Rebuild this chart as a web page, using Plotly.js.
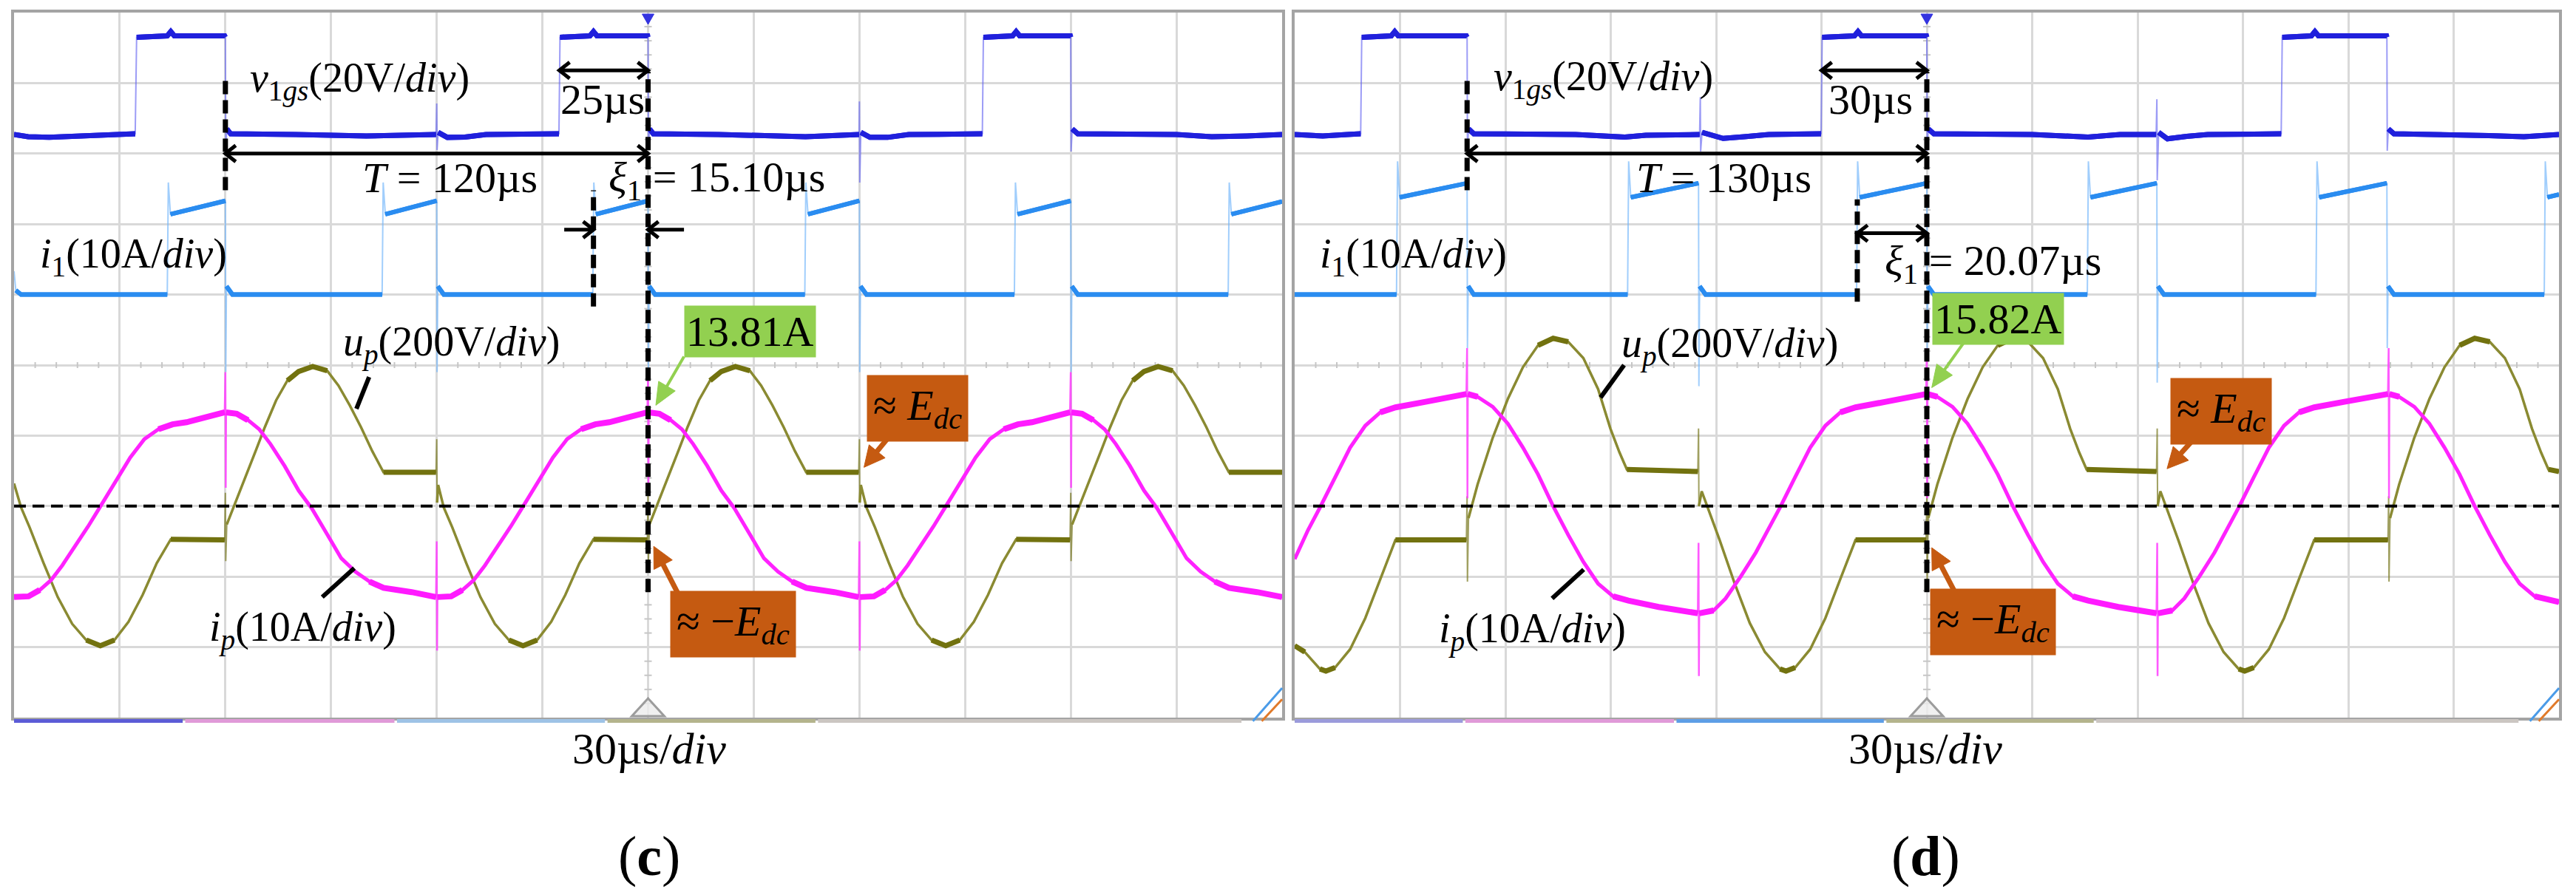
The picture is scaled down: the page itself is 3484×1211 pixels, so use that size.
<!DOCTYPE html>
<html>
<head>
<meta charset="utf-8">
<title>Scope captures (c) and (d)</title>
<script src="https://cdn.plot.ly/plotly-3.0.1.min.js"></script>
<style>
    html, body { margin: 0; padding: 0; background: #fff; }
    #scope { width: 3484px; height: 1211px; }
</style>
</head>
<body>
<div id="scope"></div>
<script>
/**
 * Two oscilloscope captures, (c) T = 120us and (d) T = 130us.
 * Times are in us from the trigger, values in channel units (V or A).
 */

// ---- panel (c) ----
const cGateT = [-180, -176, -170, -160, -146, -145.6, -145.2, -136.5, -135.5, -134.5, -120.2, -120, -119.9, -119.6, -118.5, -100, -80, -60.2, -60, -59.9, -59.6, -57, -52, -46, -25.3, -25, -16.5, -15.5, -14.5, -0.1, 0, 0.1, 0.4, 1.5, 20, 44.7, 59.9, 60, 60.1, 60.4, 63, 68, 74, 94.9, 95.2, 103.5, 104.5, 105.5, 119.9, 120, 120.1, 120.4, 122, 150, 160, 170, 180];
const cGateV = [0, -0.6, -0.8, -0.5, 0, 0.2, 27.6, 28, 29.2, 28, 28, 27.6, -4.4, 1.6, 0.2, 0, -0.4, 0, 8.8, -4.4, 0.6, -0.8, -0.7, 0, 0.2, 27.6, 28, 29.2, 28, 28, 27.6, -4.4, 1.6, 0.2, 0, -0.6, 0, 9.4, -13.6, 0.6, -0.8, -0.8, 0, 0.2, 27.6, 28, 29.2, 28, 28, 27.6, -4.8, 1.6, 0.2, 0, -0.6, -0.4, 0];

const cI1T = [-180, -179.5, -178, -136.5, -136.2, -135.6, -120.2, -120, -119.9, -119.7, -118, -75.5, -75.2, -74.6, -60.2, -60, -59.9, -59.7, -58, -15.7, -15.4, -14.8, -0.2, 0, 0.1, 0.3, 2, 44.5, 44.8, 45.4, 59.9, 60, 60.1, 60.3, 62, 104, 104.3, 104.9, 119.9, 120, 120.1, 120.3, 122, 164.7, 165, 165.6, 180];
const cI1V = [3.3, 0.6, 0, 0, 15.9, 11.4, 13.3, 13.3, -11, 1.2, 0, 0, 15.9, 11.4, 13.3, 13.3, -11, 1.2, 0, 0, 15.9, 11.4, 13.3, 13.3, -11, 1.2, 0, 0, 15.9, 11.4, 13.3, 13.3, -11, 1.2, 0, 0, 15.9, 11.4, 13.3, 13.3, -11, 1.2, 0, 0, 15.9, 11.4, 13.2];

const cUpT = [-180, -178, -175.6, -171.6, -167.6, -163.5, -159.5, -155.5, -151.5, -147.5, -143.5, -139.5, -135.5, -120.2, -120, -119.9, -119.6, -115.2, -111.2, -108.8, -105.6, -102.4, -99.2, -95.2, -91.1, -87.9, -84.7, -81.5, -78.3, -75.1, -60.2, -60, -59.9, -59.6, -58, -55.6, -51.6, -47.6, -43.5, -39.5, -35.5, -31.5, -27.5, -23.5, -19.5, -15.5, -0.2, 0, 0.1, 0.4, 4.8, 8.8, 11.2, 14.4, 17.6, 20.8, 24.8, 28.9, 32.1, 35.3, 38.5, 41.7, 44.9, 59.8, 60, 60.1, 60.4, 62, 64.4, 68.4, 72.4, 76.5, 80.5, 84.5, 88.5, 92.5, 96.5, 100.5, 104.5, 119.8, 120, 120.1, 120.4, 124.8, 128.8, 131.2, 134.4, 137.6, 140.8, 144.8, 148.9, 152.1, 155.3, 158.5, 161.7, 164.9, 180];
const cUpV = [64, -4, -60, -162, -258, -334, -380, -396, -380, -328, -252, -162, -94, -96, 38, -156, -52, 58, 162, 224, 300, 356, 382, 396, 384, 342, 286, 224, 156, 96, 96, 190, 10, 60, -4, -60, -162, -258, -334, -380, -396, -380, -328, -252, -162, -94, -96, 38, -156, -52, 58, 162, 224, 300, 356, 382, 396, 384, 342, 286, 224, 156, 96, 96, 190, 10, 60, -4, -60, -162, -258, -334, -380, -396, -380, -328, -252, -162, -94, -96, 38, -156, -52, 58, 162, 224, 300, 356, 382, 396, 384, 342, 286, 224, 156, 96, 96];

const cIpT = [-180, -175.9, -172.7, -169.5, -166.3, -163, -159, -155.8, -151, -147, -143, -139, -135, -131, -127, -120.2, -120, -119.9, -119.8, -116.8, -113.6, -110.4, -107.2, -103.2, -99.2, -95.5, -91.1, -87.1, -83.1, -79.1, -75.1, -67.1, -60.2, -60, -59.9, -59.8, -55.9, -52.7, -49.5, -46.3, -43, -39, -35.8, -31, -27, -23, -19, -15, -11, -7, -0.2, 0, 0.1, 0.2, 3.2, 6.4, 9.6, 12.8, 16.8, 20.8, 24.5, 28.9, 32.9, 36.9, 40.9, 44.9, 52.9, 59.8, 60, 60.1, 60.2, 64.1, 67.3, 70.5, 73.7, 77, 81, 84.2, 89, 93, 97, 101, 105, 109, 113, 119.8, 120, 120.1, 120.2, 123.2, 126.4, 129.6, 132.8, 136.8, 140.8, 144.5, 148.9, 152.9, 156.9, 160.9, 164.9, 172.9, 180];
const cIpV = [-12.9, -12.8, -11.9, -10.5, -8.4, -6.0, -2.9, -0.3, 3.6, 6.9, 9.5, 10.9, 11.6, 11.9, 12.4, 13.3, 19, 2.6, 13.3, 13.1, 12.2, 10.9, 8.8, 5.7, 2.2, -0.3, -4.0, -7.4, -9.3, -10.7, -11.6, -12.2, -12.9, -5.0, -20.5, -12.9, -12.8, -11.9, -10.5, -8.4, -6.0, -2.9, -0.3, 3.6, 6.9, 9.5, 10.9, 11.6, 11.9, 12.4, 13.3, 19, 2.0, 13.3, 13.1, 12.2, 10.9, 8.8, 5.7, 2.2, -0.3, -4.0, -7.4, -9.3, -10.7, -11.6, -12.2, -12.9, -5.0, -20.5, -12.9, -12.8, -11.9, -10.5, -8.4, -6.0, -2.9, -0.3, 3.6, 6.9, 9.5, 10.9, 11.6, 11.9, 12.4, 13.3, 19, 2.6, 13.3, 13.1, 12.2, 10.9, 8.8, 5.7, 2.2, -0.3, -4.0, -7.4, -9.3, -10.7, -11.6, -12.2, -12.9];

// ---- panel (d) ----
const dGateT = [-180, -172, -165, -161.2, -160.9, -152.5, -151.5, -150.5, -131.1, -130.9, -130.8, -130.5, -129, -100, -86, -80, -64.7, -64.5, -64.4, -64, -58, -52, -45, -30.1, -29.8, -20.6, -19.6, -18.6, -0.1, 0, 0.1, 0.4, 2, 30, 45.9, 55, 65.3, 65.5, 65.6, 66, 68.5, 74, 80, 100.9, 101.2, 109.5, 110.5, 111.5, 130.9, 131, 131.1, 131.4, 133, 160, 170, 180];
const dGateV = [0, -0.4, 0, 0.2, 27.6, 28, 29.2, 28, 28, 27.6, -4.6, 1.6, 0.2, 0, -0.7, -0.2, 0, 10.6, -4.8, 0.6, -1.1, -0.6, 0, 0.2, 27.6, 28, 29.2, 28, 28, 27.6, -4.6, 1.6, 0.2, 0, -0.7, 0, 0, 10, -13, 0.6, -1.2, -0.5, 0, 0.2, 27.6, 28, 29.2, 28, 28, 27.6, -4.6, 1.6, 0.2, -0.3, -0.6, 0];

const dI1T = [-180, -151, -150.7, -150.1, -131.1, -130.9, -130.8, -130.6, -129, -85.2, -84.9, -84.3, -65.2, -65, -64.9, -64.7, -63, -20, -19.7, -19.1, -0.2, 0, 0.1, 0.3, 2, 45.7, 46, 46.6, 65.3, 65.5, 65.6, 65.8, 67.5, 110.8, 111.1, 111.7, 130.8, 131, 131.1, 131.3, 133, 175.8, 176.1, 176.7, 180];
const dI1V = [0, 0, 18.9, 13.8, 15.8, 15.8, -7.6, 1.2, 0, 0, 18.9, 13.8, 15.8, 15.8, -13, 1.2, 0, 0, 18.9, 13.8, 15.8, 15.8, -7.6, 1.2, 0, 0, 18.9, 13.8, 15.8, 15.8, -12.5, 1.2, 0, 0, 18.9, 13.8, 15.8, 15.8, -7.6, 1.2, 0, 0, 18.9, 13.8, 14.2];

const dUpT = [-180, -177.1, -172.8, -171.1, -168.5, -164.2, -159.9, -155.6, -151.3, -131.1, -130.9, -130.8, -130.5, -127.9, -123.6, -119.3, -115, -110.7, -106.4, -102.1, -97.8, -93.6, -90.1, -87.5, -85.4, -65.2, -65, -64.9, -64.1, -62.4, -59, -54.7, -50.4, -46.1, -41.8, -40.1, -37.5, -33.2, -28.9, -24.6, -20.3, -0.2, 0, 0.1, 0.4, 3, 7.3, 11.6, 15.9, 20.2, 24.5, 28.8, 33.1, 37.3, 40.8, 43.4, 45.5, 65.4, 65.6, 65.7, 66.5, 68.2, 71.6, 75.9, 80.2, 84.5, 88.8, 90.5, 93.1, 97.4, 101.7, 106, 110.3, 131.3, 131.5, 131.6, 131.9, 134.5, 138.8, 143.1, 147.4, 151.7, 156, 160.3, 164.6, 168.8, 172.3, 174.9, 177, 180];
const dUpV = [-396, -414, -462, -468, -458, -406, -318, -206, -96, -96, 28, -214, -34, 62, 194, 304, 394, 456, 476, 466, 420, 332, 220, 152, 104, 98, 220, 0, 42, -4, -96, -220, -332, -414, -462, -468, -458, -406, -318, -206, -96, -96, 28, -214, -34, 62, 194, 304, 394, 456, 476, 466, 420, 332, 220, 152, 104, 98, 220, 0, 42, -4, -96, -220, -332, -414, -462, -468, -458, -406, -318, -206, -96, -96, 28, -214, -34, 62, 194, 304, 394, 456, 476, 466, 420, 332, 220, 152, 104, 98];

const dIpT = [-180, -176.2, -172.8, -168.5, -164.2, -159.9, -155.6, -151.3, -142.7, -131.1, -130.9, -130.8, -130.7, -127.9, -123.6, -119.3, -115, -110.7, -106.4, -102.1, -97.8, -93.6, -89.3, -85, -76.4, -65.2, -65, -64.9, -64.8, -60.7, -57.3, -53, -48.7, -45.2, -41.8, -37.5, -33.2, -28.9, -24.6, -20.3, -11.7, -0.2, 0, 0.1, 0.2, 3, 7.3, 11.6, 15.9, 20.2, 24.5, 28.8, 33.1, 37.3, 41.6, 45.9, 54.5, 65.4, 65.6, 65.7, 65.8, 69.9, 73.3, 77.6, 81.9, 85.4, 88.8, 93.1, 97.4, 101.7, 106, 110.3, 118.9, 131.3, 131.5, 131.6, 131.7, 134.5, 138.8, 143.1, 147.4, 151.7, 156, 160.3, 164.6, 168.8, 173.1, 177.4, 180];
const dIpV = [-7.5, -3.4, -0.2, 4.1, 8.3, 11.4, 13.3, 14.0, 14.8, 15.9, 22.4, 1.1, 15.9, 15.5, 14.1, 11.7, 8.3, 4.5, 0, -4.1, -7.9, -11.0, -12.8, -13.4, -14.3, -15.2, -5.2, -24.1, -15.2, -14.8, -13.1, -10.0, -6.6, -3.4, -0.2, 4.1, 8.3, 11.4, 13.3, 14.0, 14.8, 15.9, 22.4, 1.1, 15.9, 15.5, 14.1, 11.7, 8.3, 4.5, 0, -4.1, -7.9, -11.0, -12.8, -13.4, -14.3, -15.2, -5.2, -24.1, -15.2, -14.8, -13.1, -10.0, -6.6, -3.4, -0.2, 4.1, 8.3, 11.4, 13.3, 14.0, 14.8, 15.9, 22.4, 1.1, 15.9, 15.5, 14.1, 11.7, 8.3, 4.5, 0, -4.1, -7.9, -11.0, -12.8, -13.4, -13.6];

// Channel settings: units per division, ground position (div above the bottom) and look.
// Fast edges are drawn thin and pale, slow stretches thick, as on the scope screen.
const CHANNELS = {
    gate: { scale: 20,  pos: 8.27, thinColor: 'rgba(90,90,240,0.6)',   midColor: '#2020dc', thickColor: '#2020dc', thin: 2,   mid: 7,   thick: 7, edge: 0.3, slow: 0.08 },
    i1:   { scale: 10,  pos: 6.0,  thinColor: 'rgba(110,180,250,0.65)', midColor: '#2a8cf0', thickColor: '#2a8cf0', thin: 2,   mid: 6,   thick: 6, edge: 0.3, slow: 0.08 },
    up:   { scale: 200, pos: 3.0,  thinColor: 'rgba(120,120,30,0.7)',  midColor: '#8a8a32', thickColor: '#72720f', thin: 2,   mid: 3.5, thick: 7, edge: 1,   slow: 0.05 },
    ip:   { scale: 10,  pos: 3.0,  thinColor: 'rgba(255,60,255,0.85)', midColor: '#ff22ff', thickColor: '#ff1aff', thin: 2.5, mid: 5,   thick: 8, edge: 1,   slow: 0.03 }
};

const FONT = 'Liberation Serif, "Times New Roman", serif';
const GREEN = '#92d050';
const ORANGE = '#c55a11';
const W = 3484, H = 1211;
const PX_PER_US = { x: 1715 / 360, x2: 1710 / 360 };
const PX_PER_DIV = 954 / 10;

function toScreen(vals, ch) {
    return vals.map(v => ch.pos + v / ch.scale);
}

// Keep only the stretches slower than maxSlope, broken by nulls elsewhere
function stretches(t, y, maxSlope) {
    const xs = [], ys = [];
    let open = false;
    for (let i = 0; i < t.length - 1; i++) {
        const slope = Math.abs((y[i + 1] - y[i]) / (t[i + 1] - t[i]));
        if (slope < maxSlope) {
            if (!open) { xs.push(t[i]); ys.push(y[i]); }
            xs.push(t[i + 1]); ys.push(y[i + 1]);
            open = true;
        } else if (open) {
            xs.push(null); ys.push(null);
            open = false;
        }
    }
    return { x: xs, y: ys };
}

function channelTraces(name, t, vals, xa, ya) {
    const ch = CHANNELS[name];
    const y = toScreen(vals, ch);
    const mid = stretches(t, y, ch.edge);
    const slow = stretches(t, y, ch.slow);
    const common = { type: 'scatter', mode: 'lines', xaxis: xa, yaxis: ya, hoverinfo: 'skip', showlegend: false };
    return [
        { ...common, x: t, y: y, line: { color: ch.thinColor, width: ch.thin } },
        { ...common, x: mid.x, y: mid.y, line: { color: ch.midColor, width: ch.mid } },
        { ...common, x: slow.x, y: slow.y, line: { color: ch.thickColor, width: ch.thick } }
    ];
}

// ---- shapes ----
function dashedV(xa, ya, t, y0, y1) {
    return { type: 'line', xref: xa, yref: ya, x0: t, x1: t, y0: y0, y1: y1,
        line: { color: '#000', width: 7, dash: '18px,8px' }, layer: 'above' };
}
function groundLine(xa, ya) {
    const g = CHANNELS.up.pos;
    return { type: 'line', xref: xa, yref: ya, x0: -180, x1: 180, y0: g, y1: g,
        line: { color: '#000', width: 4, dash: '16px,9px' }, layer: 'above' };
}
function pointer(xa, ya, x0, y0, x1, y1) {
    return { type: 'line', xref: xa, yref: ya, x0: x0, y0: y0, x1: x1, y1: y1,
        line: { color: '#000', width: 6 }, layer: 'above' };
}

// Arrow = shaft line + head path drawn in pixels around the tip
function arrow(xa, ya, x0, y0, x1, y1, o) {
    o = o || {};
    const color = o.color || '#000';
    const width = o.width || 5;
    const len = o.len || 15, half = o.half || 12;
    const out = [];
    const ends = o.both ? [[x1, y1, x0, y0], [x0, y0, x1, y1]] : [[x1, y1, x0, y0]];
    let sx0 = x0, sy0 = y0, sx1 = x1, sy1 = y1;
    ends.forEach(([tx, ty, fx, fy], k) => {
        const dx = (tx - fx) * PX_PER_US[xa], dy = (ty - fy) * PX_PER_DIV;
        const d = Math.hypot(dx, dy);
        const ux = dx / d, uy = dy / d;
        const bx = -ux * len, by = -uy * len;
        const p1 = (bx - uy * half).toFixed(1) + ',' + (by + ux * half).toFixed(1);
        const p2 = (bx + uy * half).toFixed(1) + ',' + (by - ux * half).toFixed(1);
        out.push({ type: 'path', xref: xa, yref: ya, xsizemode: 'pixel', ysizemode: 'pixel',
            xanchor: tx, yanchor: ty, layer: 'above',
            path: o.open ? 'M' + p1 + ' L0,0 L' + p2 : 'M' + p1 + ' L0,0 L' + p2 + ' Z',
            line: { color: color, width: o.open ? width : 1 },
            fillcolor: o.open ? 'rgba(0,0,0,0)' : color });
        if (!o.open) {
            // pull the shaft back so the filled head keeps a sharp point
            const bxData = ux * len * 0.6 / PX_PER_US[xa], byData = uy * len * 0.6 / PX_PER_DIV;
            if (k === 0) { sx1 = tx - bxData; sy1 = ty - byData; } else { sx0 = tx - bxData; sy0 = ty - byData; }
        }
    });
    out.unshift({ type: 'line', xref: xa, yref: ya, x0: sx0, y0: sy0, x1: sx1, y1: sy1,
        line: { color: color, width: width }, layer: 'above' });
    return out;
}
const BLACK_ARROW = { open: true, width: 5, len: 14, half: 11 };
function greenArrow() { return { color: GREEN, width: 4, len: 30, half: 13 }; }
function orangeArrow() { return { color: ORANGE, width: 7, len: 28, half: 14 }; }

function centerTicks(xa, ya) {
    const out = [];
    const tick = { color: '#c6c6c6', width: 2 };
    for (let i = -30; i <= 30; i++) {
        if (i % 5 === 0) continue;
        out.push({ type: 'line', xref: xa, yref: ya, x0: i * 6, x1: i * 6, ysizemode: 'pixel', yanchor: 5,
            y0: -4, y1: 4, line: tick, layer: 'between' });
    }
    for (let j = 1; j < 50; j++) {
        if (j % 5 === 0) continue;
        out.push({ type: 'line', xref: xa, yref: ya, y0: j * 0.2, y1: j * 0.2, xsizemode: 'pixel', xanchor: 0,
            x0: -5, x1: 5, line: tick, layer: 'between' });
    }
    return out;
}
function triggerMarks(xa, ya) {
    return [
        { type: 'path', xref: xa, yref: ya, xsizemode: 'pixel', ysizemode: 'pixel', xanchor: 0, yanchor: 0,
            path: 'M-22,2 L22,2 L0,26 Z', line: { color: '#9c9c9c', width: 3 }, fillcolor: 'rgba(236,236,236,0.8)', layer: 'between' },
        { type: 'path', xref: xa, yref: ya, xsizemode: 'pixel', ysizemode: 'pixel', xanchor: 0, yanchor: 10,
            path: 'M-8,-2 L8,-2 L0,-16 Z', line: { color: '#3434e0', width: 1 }, fillcolor: '#3434e0', layer: 'above' }
    ];
}
function statusStrip(xa, ya, colors) {
    const cuts = [0, 0.135, 0.302, 0.468, 0.634, 0.97];
    const out = colors.map((c, i) => ({ type: 'rect', xref: xa + ' domain', yref: ya + ' domain',
        x0: cuts[i], x1: cuts[i + 1] - 0.002, y0: -0.0073, y1: -0.0021,
        line: { width: 0 }, fillcolor: c, layer: 'above' }));
    // little zoom icon in the bottom right corner of the screen
    out.push({ type: 'line', xref: xa + ' domain', yref: ya + ' domain', x0: 0.977, y0: -0.005, x1: 1, y1: 0.042,
        line: { color: '#4a9be8', width: 3 }, layer: 'above' });
    out.push({ type: 'line', xref: xa + ' domain', yref: ya + ' domain', x0: 0.984, y0: -0.005, x1: 1, y1: 0.026,
        line: { color: '#e07a2a', width: 3 }, layer: 'above' });
    return out;
}

// ---- text ----
function label(xa, ya, x, y, html, anchor, size) {
    return { xref: xa, yref: ya, x: x, y: y, text: html, showarrow: false,
        xanchor: anchor || 'left', yanchor: 'middle',
        font: { family: FONT, size: size || 58, color: '#000' } };
}
function tag(xa, ya, x, y, html, bg, pad) {
    return { xref: xa, yref: ya, x: x, y: y, text: html, showarrow: false,
        xanchor: 'center', yanchor: 'middle', bgcolor: bg, borderpad: pad,
        font: { family: FONT, size: 58, color: '#000' } };
}

const CH_SIZE = 56;
const GATE_LABEL = '<i>v</i><sub>1<i>gs</i></sub>(20V/<i>div</i>)';
const I1_LABEL = '<i>i</i><sub>1</sub>(10A/<i>div</i>)';
const UP_LABEL = '<i>u</i><sub><i>p</i></sub>(200V/<i>div</i>)';
const IP_LABEL = '<i>i</i><sub><i>p</i></sub>(10A/<i>div</i>)';
const EDC = '≈ <i>E</i><sub><i>dc</i></sub>';
const NEG_EDC = '≈ −<i>E</i><sub><i>dc</i></sub>';

const traces = [
    ...channelTraces('gate', cGateT, cGateV, 'x', 'y'),
    ...channelTraces('i1', cI1T, cI1V, 'x', 'y'),
    ...channelTraces('up', cUpT, cUpV, 'x', 'y'),
    ...channelTraces('ip', cIpT, cIpV, 'x', 'y'),
    ...channelTraces('gate', dGateT, dGateV, 'x2', 'y2'),
    ...channelTraces('i1', dI1T, dI1V, 'x2', 'y2'),
    ...channelTraces('up', dUpT, dUpV, 'x2', 'y2'),
    ...channelTraces('ip', dIpT, dIpV, 'x2', 'y2')
];

const shapes = [
    ...centerTicks('x', 'y'), ...centerTicks('x2', 'y2'),
    ...triggerMarks('x', 'y'), ...triggerMarks('x2', 'y2'),
    groundLine('x', 'y'), groundLine('x2', 'y2'),
    // (c)
    dashedV('x', 'y', -120, 7.48, 9.10),
    dashedV('x', 'y', 0, 1.78, 9.16),
    dashedV('x', 'y', -15.5, 5.83, 7.48),
    pointer('x', 'y', -79.2, 4.83, -82.8, 4.38),
    pointer('x', 'y', -92.5, 1.71, -83.4, 2.12),
    ...arrow('x', 'y', -25.2, 9.18, 0, 9.18, { ...BLACK_ARROW, both: true }),
    ...arrow('x', 'y', -120, 8.0, 0, 8.0, { ...BLACK_ARROW, both: true }),
    ...arrow('x', 'y', -23.8, 6.92, -15.5, 6.92, BLACK_ARROW),
    ...arrow('x', 'y', 10.2, 6.92, 0, 6.92, BLACK_ARROW),
    ...arrow('x', 'y', 10.2, 5.12, 2.2, 4.43, greenArrow()),
    ...arrow('x', 'y', 68.5, 3.99, 61.3, 3.55, orangeArrow()),
    ...arrow('x', 'y', 8.9, 1.72, 1.6, 2.43, orangeArrow()),
    // (d)
    dashedV('x2', 'y2', -130.9, 7.48, 9.10),
    dashedV('x2', 'y2', 0, 1.78, 9.16),
    dashedV('x2', 'y2', -19.8, 5.90, 7.35),
    pointer('x2', 'y2', -86.2, 5.0, -92.9, 4.54),
    pointer('x2', 'y2', -97.7, 2.10, -106.7, 1.69),
    ...arrow('x2', 'y2', -30, 9.18, 0, 9.18, { ...BLACK_ARROW, both: true }),
    ...arrow('x2', 'y2', -130.9, 8.0, 0, 8.0, { ...BLACK_ARROW, both: true }),
    ...arrow('x2', 'y2', -19.8, 6.87, 0, 6.87, { ...BLACK_ARROW, both: true }),
    ...arrow('x2', 'y2', 11.4, 5.38, 1.4, 4.68, greenArrow()),
    ...arrow('x2', 'y2', 76.0, 3.95, 68.4, 3.53, orangeArrow()),
    ...arrow('x2', 'y2', 8.2, 1.76, 1.4, 2.41, orangeArrow()),
    ...statusStrip('x', 'y', ['#5b5bd6', '#e09ad8', '#9ec3e6', '#b4b48c', '#cbc6c2']),
    ...statusStrip('x2', 'y2', ['#9b9bdb', '#e09ad8', '#5d9ee6', '#b4b48c', '#cbc6c2'])
];

const annotations = [
    // (c)
    label('x', 'y', -113.5, 9.03, GATE_LABEL, 'left', CH_SIZE),
    label('x', 'y', -12.9, 8.77, '25µs', 'center'),
    label('x', 'y', -56.3, 7.66, '<i>T</i> = 120µs', 'center'),
    label('x', 'y', -11.7, 7.63, '<i>ξ</i><sub>1</sub> = 15.10µs'),
    label('x', 'y', -173.1, 6.54, I1_LABEL, 'left', CH_SIZE),
    label('x', 'y', -87, 5.29, UP_LABEL, 'left', CH_SIZE),
    label('x', 'y', -125, 1.24, IP_LABEL, 'left', CH_SIZE),
    tag('x', 'y', 29.0, 5.48, '13.81A', GREEN, 2),
    tag('x', 'y', 76.5, 4.39, EDC, ORANGE, 8),
    tag('x', 'y', 24.2, 1.33, NEG_EDC, ORANGE, 8),
    // (d)
    label('x2', 'y2', -123.7, 9.05, GATE_LABEL, 'left', CH_SIZE),
    label('x2', 'y2', -16.1, 8.77, '30µs', 'center'),
    label('x2', 'y2', -57.8, 7.66, '<i>T</i> = 130µs', 'center'),
    label('x2', 'y2', -12.4, 6.44, '<i>ξ</i><sub>1</sub> = 20.07µs'),
    label('x2', 'y2', -173.3, 6.54, I1_LABEL, 'left', CH_SIZE),
    label('x2', 'y2', -87.4, 5.27, UP_LABEL, 'left', CH_SIZE),
    label('x2', 'y2', -139.4, 1.22, IP_LABEL, 'left', CH_SIZE),
    tag('x2', 'y2', 20.3, 5.66, '15.82A', GREEN, 2),
    tag('x2', 'y2', 83.7, 4.35, EDC, ORANGE, 8),
    tag('x2', 'y2', 18.9, 1.36, NEG_EDC, ORANGE, 8),
    // captions below the screens
    label('paper', 'paper', 878 / W, 1 - 1013 / H, '30µs/<i>div</i>', 'center', 60),
    label('paper', 'paper', 2604 / W, 1 - 1013 / H, '30µs/<i>div</i>', 'center', 60),
    label('paper', 'paper', 878 / W, 1 - 1158 / H, '(<b>c</b>)', 'center', 76),
    label('paper', 'paper', 2604 / W, 1 - 1158 / H, '(<b>d</b>)', 'center', 76)
];

function screenX(domain, anchor) {
    return { domain: domain, anchor: anchor, range: [-180, 180], tick0: 0, dtick: 30,
        showgrid: true, gridcolor: '#d9d9d9', gridwidth: 3, zeroline: false,
        showline: true, mirror: true, linecolor: '#a4a4a4', linewidth: 4,
        showticklabels: false, ticks: '', fixedrange: true };
}
function screenY(domain, anchor) {
    return { domain: domain, anchor: anchor, range: [0, 10], tick0: 0, dtick: 1,
        showgrid: true, gridcolor: '#d9d9d9', gridwidth: 3, zeroline: false,
        showline: true, mirror: true, linecolor: '#a4a4a4', linewidth: 4,
        showticklabels: false, ticks: '', fixedrange: true };
}

const yDomain = [1 - 971 / H, 1 - 17 / H];
const layout = {
    width: W, height: H,
    margin: { l: 0, r: 0, t: 0, b: 0 },
    paper_bgcolor: '#fff', plot_bgcolor: '#fff',
    showlegend: false, hovermode: false,
    font: { family: FONT, size: 58, color: '#000' },
    xaxis: screenX([19 / W, 1734 / W], 'y'),
    yaxis: screenY(yDomain, 'x'),
    xaxis2: screenX([1751 / W, 3461 / W], 'y2'),
    yaxis2: screenY(yDomain, 'x2'),
    shapes: shapes,
    annotations: annotations
};

Plotly.newPlot('scope', traces, layout, { staticPlot: true, displayModeBar: false });
</script>
</body>
</html>
